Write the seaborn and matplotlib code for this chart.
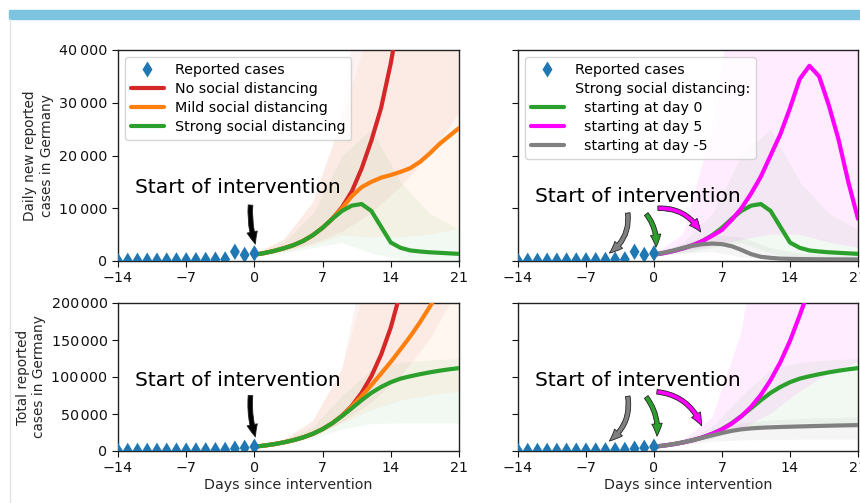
import matplotlib
matplotlib.use("Agg")
import matplotlib.pyplot as plt
from matplotlib.lines import Line2D
from matplotlib.patches import Rectangle
from matplotlib.ticker import FuncFormatter
import seaborn as sns
import pandas as pd

# Reported cases (days before intervention)
report_days = [-14, -13, -12, -11, -10, -9, -8, -7, -6, -5, -4, -3, -2, -1, 0]
report_daily = [20, 30, 40, 50, 60, 90, 110, 130, 150, 190, 250, 300, 1750, 1150, 1450]
report_total = [20, 50, 90, 140, 200, 290, 400, 530, 680, 870, 1120, 1420, 3170, 4320, 5770]

# Model medians, days 0..21
model_days = list(range(22))
daily_none = [1200, 1500, 1900, 2400, 3000, 3800, 4900, 6300, 8000, 10200, 13200, 17500,
              22800, 29000, 37500, 48000, 62000, 80000, 103000, 133000, 172000, 222000]
daily_mild = [1200, 1500, 1900, 2400, 3000, 3800, 4900, 6300, 8000, 10000, 12300, 14000,
              15000, 15800, 16300, 16900, 17600, 18800, 20400, 22200, 23700, 25200]
daily_strong = [1200, 1500, 1900, 2400, 3000, 3800, 4900, 6300, 8000, 9500, 10500, 10800,
                9500, 6500, 3500, 2500, 2000, 1800, 1650, 1550, 1450, 1350]
daily_late = [1200, 1500, 1900, 2400, 3000, 3800, 4800, 5900, 7800, 10000, 12800, 16000,
              20000, 24000, 29000, 34500, 37000, 35000, 29500, 23000, 15000, 8000]
daily_early = [1200, 1600, 2000, 2500, 2900, 3200, 3300, 3200, 2800, 2100, 1300, 800,
               600, 450, 400, 370, 350, 330, 320, 310, 300, 300]

total_none = [5800, 7300, 9200, 11600, 14600, 18400, 23300, 29600, 37600, 47800, 61000, 78500,
              101000, 130000, 167000, 215000, 277000, 357000, 460000, 593000, 765000, 987000]
total_mild = [5800, 7300, 9200, 11600, 14600, 18400, 23300, 29600, 37600, 47800, 60000, 74000,
              89000, 104500, 120500, 137500, 155000, 174000, 195000, 217000, 241000, 266000]
total_strong = [5800, 7300, 9200, 11600, 14600, 18400, 23300, 29600, 37600, 47300, 57800, 68600,
                78500, 86500, 93000, 97800, 101000, 103800, 106300, 108500, 110400, 112000]
total_late = [5800, 7300, 9200, 11600, 14600, 18400, 23300, 29200, 37000, 47000, 59800, 75800,
              95800, 119800, 148800, 183300, 220300, 255300, 284800, 307800, 322800, 330800]
total_early = [5800, 7300, 9300, 11800, 14700, 17900, 21200, 24400, 27200, 29300, 30600, 31400,
               32000, 32450, 32850, 33200, 33550, 33900, 34200, 34500, 34750, 35000]

# Credible intervals on a coarse grid
band_days = [0, 3, 6, 9, 12, 15, 18, 21]
daily_none_lo = [1000, 1800, 3200, 5500, 9000, 14000, 20000, 28000]
daily_none_hi = [1300, 4000, 11000, 27000, 70000, 150000, 300000, 600000]
daily_mild_lo = [1000, 1700, 3000, 4800, 4500, 4500, 5000, 6000]
daily_mild_hi = [1300, 4000, 11000, 27000, 45000, 60000, 80000, 100000]
daily_strong_lo = [1000, 1500, 2500, 3500, 1500, 300, 200, 200]
daily_strong_hi = [1300, 3500, 9000, 20000, 25000, 15000, 9000, 6000]
daily_late_lo = [1000, 1800, 2800, 4000, 5000, 5000, 3500, 2500]
daily_late_hi = [1300, 5000, 25000, 60000, 120000, 200000, 200000, 150000]
daily_early_lo = [1000, 1500, 1800, 800, 200, 100, 100, 100]
daily_early_hi = [1300, 3200, 5000, 4500, 2500, 1500, 1200, 1000]

total_none_lo = [5800, 10000, 19000, 38000, 65000, 100000, 150000, 220000]
total_none_hi = [6300, 15000, 40000, 110000, 300000, 800000, 2000000, 4000000]
total_mild_lo = [5800, 10000, 19000, 37000, 55000, 68000, 75000, 80000]
total_mild_hi = [6300, 15000, 40000, 110000, 250000, 450000, 700000, 1000000]
total_strong_lo = [5800, 9500, 17000, 30000, 37000, 38000, 38000, 38000]
total_strong_hi = [6300, 14000, 33000, 75000, 110000, 120000, 123000, 125000]
total_late_lo = [5800, 10000, 18000, 30000, 50000, 80000, 105000, 120000]
total_late_hi = [6300, 15000, 45000, 160000, 400000, 800000, 1000000, 1200000]
total_early_lo = [5800, 8500, 13000, 15000, 15500, 16000, 16000, 16000]
total_early_hi = [6300, 13000, 27000, 38000, 42000, 44000, 45000, 46000]

C_BLUE, C_RED, C_ORANGE, C_GREEN = '#1f77b4', '#d62728', '#ff7f0e', '#2ca02c'
C_MAG, C_GRAY = '#ff00ff', '#808080'

sns.set_style("ticks")
plt.rcParams['font.family'] = ['DejaVu Sans']
plt.rcParams['xtick.major.size'] = 4
plt.rcParams['ytick.major.size'] = 4
plt.rcParams['axes.edgecolor'] = '#222222'
plt.rcParams['axes.linewidth'] = 1.0
plt.rcParams['text.color'] = 'black'

fig = plt.figure(figsize=(8.6, 5.03), dpi=100)
fig.patches.append(Rectangle((9 / 860, 1 - 19 / 503), 1, 9 / 503, transform=fig.transFigure,
                             color='#7cc4e0', zorder=0))
fig.lines.append(Line2D([10 / 860, 10 / 860], [0, 1 - 19 / 503], transform=fig.transFigure,
                        color='#e2e2e2', lw=1))

ax_tl = fig.add_axes([118 / 860, 1 - 261 / 503, 341 / 860, 211 / 503])
ax_tr = fig.add_axes([518 / 860, 1 - 261 / 503, 340 / 860, 211 / 503])
ax_bl = fig.add_axes([118 / 860, 1 - 451 / 503, 341 / 860, 148 / 503])
ax_br = fig.add_axes([518 / 860, 1 - 451 / 503, 340 / 860, 148 / 503])

FS = 10.3


def draw_panel(ax, bands, lines, rep):
    for lo, hi, c, a in bands:
        ax.fill_between(band_days, lo, hi, color=c, alpha=a, lw=0, zorder=1)
    for vals, c in lines:
        sns.lineplot(x=model_days, y=vals, color=c, lw=3, ax=ax, zorder=3)
    sns.scatterplot(x=report_days, y=rep, marker='d', s=70, color=C_BLUE,
                    edgecolor='none', ax=ax, zorder=4, clip_on=True)
    ax.set_xlim(-14, 21)
    ax.set_xticks([-14, -7, 0, 7, 14, 21])
    ax.tick_params(labelsize=FS, colors='#111111')
    ax.set_xlabel('')
    ax.set_ylabel('')


def arrow(ax, tail, head, fc, rad):
    ax.annotate('', xy=head, xytext=tail, zorder=5,
                arrowprops=dict(arrowstyle='simple,head_length=0.6,head_width=0.5,tail_width=0.22',
                                connectionstyle='arc3,rad=%s' % rad, mutation_scale=15,
                                fc=fc, ec='#222222', lw=0.6, shrinkA=0, shrinkB=0))


fmt_daily = FuncFormatter(lambda v, p: '0' if v == 0 else '{:,.0f}'.format(v).replace(',', '\u2009'))
fmt_total = FuncFormatter(lambda v, p: '0' if v == 0 else '{:,.0f}'.format(v).replace(',', '\u200a'))

# Top left
draw_panel(ax_tl,
           [(daily_none_lo, daily_none_hi, C_RED, 0.06),
            (daily_mild_lo, daily_mild_hi, C_ORANGE, 0.06),
            (daily_strong_lo, daily_strong_hi, C_GREEN, 0.06)],
           [(daily_none, C_RED), (daily_mild, C_ORANGE), (daily_strong, C_GREEN)],
           report_daily)
# Top right
draw_panel(ax_tr,
           [(daily_strong_lo, daily_strong_hi, C_GREEN, 0.06),
            (daily_late_lo, daily_late_hi, C_MAG, 0.07),
            (daily_early_lo, daily_early_hi, C_GRAY, 0.08)],
           [(daily_strong, C_GREEN), (daily_late, C_MAG), (daily_early, C_GRAY)],
           report_daily)
# Bottom left
draw_panel(ax_bl,
           [(total_none_lo, total_none_hi, C_RED, 0.06),
            (total_mild_lo, total_mild_hi, C_ORANGE, 0.06),
            (total_strong_lo, total_strong_hi, C_GREEN, 0.06)],
           [(total_none, C_RED), (total_mild, C_ORANGE), (total_strong, C_GREEN)],
           report_total)
# Bottom right
draw_panel(ax_br,
           [(total_strong_lo, total_strong_hi, C_GREEN, 0.06),
            (total_late_lo, total_late_hi, C_MAG, 0.07),
            (total_early_lo, total_early_hi, C_GRAY, 0.08)],
           [(total_strong, C_GREEN), (total_late, C_MAG), (total_early, C_GRAY)],
           report_total)

for ax in (ax_tl, ax_tr):
    ax.set_ylim(0, 40000)
    ax.set_yticks([0, 10000, 20000, 30000, 40000])
    ax.yaxis.set_major_formatter(fmt_daily)
for ax in (ax_bl, ax_br):
    ax.set_ylim(0, 200000)
    ax.set_yticks([0, 50000, 100000, 150000, 200000])
    ax.yaxis.set_major_formatter(fmt_total)
    ax.set_xlabel('Days since intervention', fontsize=FS, labelpad=2)
ax_tr.set_yticklabels([])
ax_br.set_yticklabels([])

ax_tl.set_ylabel('Daily new reported\ncases in Germany', fontsize=9.8, labelpad=4)
ax_bl.set_ylabel('Total reported\ncases in Germany', fontsize=9.8, labelpad=4)

# Annotations
ax_tl.text(-1.65, 14000, 'Start of intervention', fontsize=14.6, ha='center', va='center')
arrow(ax_tl, (-0.4, 10600), (0.1, 3200), 'black', 0.1)
ax_tr.text(-1.65, 12300, 'Start of intervention', fontsize=14.6, ha='center', va='center')
arrow(ax_tr, (-2.7, 9100), (-4.6, 1500), C_GRAY, -0.3)
arrow(ax_tr, (-0.8, 8900), (0.2, 2600), C_GREEN, -0.2)
arrow(ax_tr, (0.4, 10000), (4.8, 5500), C_MAG, -0.3)

ax_bl.text(-1.65, 95000, 'Start of intervention', fontsize=14.6, ha='center', va='center')
arrow(ax_bl, (-0.4, 75000), (0.1, 19000), 'black', 0.1)
ax_br.text(-1.65, 95000, 'Start of intervention', fontsize=14.6, ha='center', va='center')
arrow(ax_br, (-2.7, 74000), (-4.6, 13500), C_GRAY, -0.3)
arrow(ax_br, (-0.8, 73000), (0.3, 20000), C_GREEN, -0.2)
arrow(ax_br, (0.3, 80000), (4.9, 34000), C_MAG, -0.3)

# Legends
rep_handle = Line2D([], [], marker='d', color=C_BLUE, ls='none', markersize=8.5, mec='none')
ax_tl.legend([rep_handle,
              Line2D([], [], color=C_RED, lw=3),
              Line2D([], [], color=C_ORANGE, lw=3),
              Line2D([], [], color=C_GREEN, lw=3)],
             ['Reported cases', 'No social distancing', 'Mild social distancing',
              'Strong social distancing'],
             loc='upper left', fontsize=FS, labelspacing=0.35, handlelength=2.3)
ax_tr.legend([rep_handle,
              Line2D([], [], color='none'),
              Line2D([], [], color=C_GREEN, lw=3),
              Line2D([], [], color=C_MAG, lw=3),
              Line2D([], [], color=C_GRAY, lw=3)],
             ['Reported cases', 'Strong social distancing:', '  starting at day 0',
              '  starting at day 5', '  starting at day -5'],
             loc='upper left', fontsize=FS, labelspacing=0.35, handlelength=2.3)

fig.savefig('out.png', dpi=100)
